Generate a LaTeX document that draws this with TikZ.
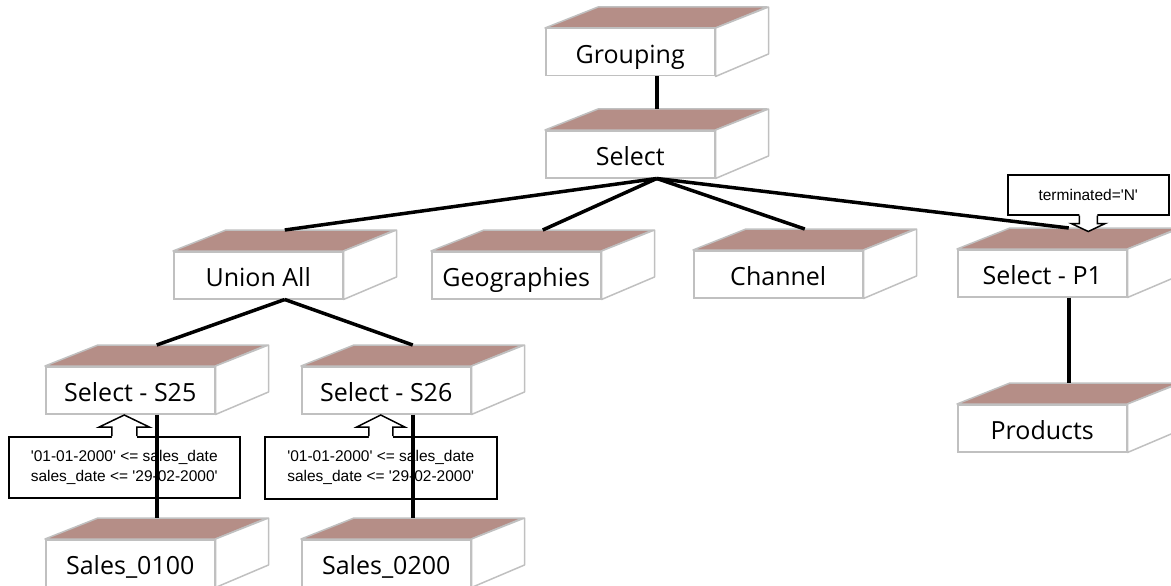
\documentclass[tikz,border=0pt]{standalone}
\usepackage{fontspec}
\setmainfont{Open Sans}
\newfontfamily\calloutfont{Liberation Sans}
\usetikzlibrary{calc}
\definecolor{boxtop}{RGB}{181,142,135}
\definecolor{boxedge}{RGB}{192,192,192}

\tikzset{
  opbox/.style={draw=boxedge, line width=1.5, fill=white, minimum width=169,
    minimum height=47, inner sep=0, anchor=north west,
    text height=26, text depth=3,
    font=\fontsize{25}{30}\selectfont},
  opface/.style={draw=boxedge, line width=1.5, line join=round},
  link/.style={line width=3.5, black},
  note/.style={draw=black, line width=1.5, fill=white, inner sep=0,
    anchor=north west, align=center,
    font=\calloutfont\fontsize{15.5}{20}\selectfont},
  noteline/.style={draw=black, line width=1.5, line join=miter},
}

% 3D operator box: front face as node, top and side faces drawn behind its corners
\newcommand\opnode[3]{%
  \node[opbox] (#1) at (#2) {#3};
  \path[opface, fill=boxtop] (#1.north west) -- ++(53,-21) -- ++(169,0)
    -- (#1.north east) -- cycle;
  \path[opface, fill=white] (#1.north east) -- ++(53,-21) -- ++(0,47)
    -- (#1.south east) -- cycle;
  \coordinate (#1-in) at ($(#1.north)+(26.5,-21)$);
  \coordinate (#1-out) at ($(#1.south)+(26.5,0)$);
}

% arrow of an upward callout: node, stem half width, stem length, head half width, head length
\newcommand\uptab[5]{%
  \fill[white] ($(#1.north)+(-#2,2)$) -- ($(#1.north)+(-#2,-#3)$)
    -- ($(#1.north)+(-#4,-#3)$) -- ($(#1.north)+(0,-#3-#5)$)
    -- ($(#1.north)+(#4,-#3)$) -- ($(#1.north)+(#2,-#3)$)
    -- ($(#1.north)+(#2,2)$) -- cycle;
  \path[noteline] ($(#1.north)+(-#2,0)$) -- ($(#1.north)+(-#2,-#3)$)
    -- ($(#1.north)+(-#4,-#3)$) -- ($(#1.north)+(0,-#3-#5)$)
    -- ($(#1.north)+(#4,-#3)$) -- ($(#1.north)+(#2,-#3)$)
    -- ($(#1.north)+(#2,0)$);
}
% arrow of a downward callout
\newcommand\downtab[5]{%
  \fill[white] ($(#1.south)+(-#2,-2)$) -- ($(#1.south)+(-#2,#3)$)
    -- ($(#1.south)+(-#4,#3)$) -- ($(#1.south)+(0,#3+#5)$)
    -- ($(#1.south)+(#4,#3)$) -- ($(#1.south)+(#2,#3)$)
    -- ($(#1.south)+(#2,-2)$) -- cycle;
  \path[noteline] ($(#1.south)+(-#2,0)$) -- ($(#1.south)+(-#2,#3)$)
    -- ($(#1.south)+(-#4,#3)$) -- ($(#1.south)+(0,#3+#5)$)
    -- ($(#1.south)+(#4,#3)$) -- ($(#1.south)+(#2,#3)$)
    -- ($(#1.south)+(#2,0)$);
}

\begin{document}
\begin{tikzpicture}[x=1pt, y=-1pt]
  \useasboundingbox (0,0) rectangle (1171,586);
  \clip (0,0) rectangle (1171,586);

  % operator boxes
  \opnode{grp}{545,28}{Grouping}
  \opnode{sel}{545,130}{Select}
  \opnode{union}{173,251}{Union All}
  \opnode{geo}{431,251}{Geographies}
  \opnode{chan}{693,250}{Channel}
  \opnode{selp}{957,249}{Select - P1}
  \opnode{sela}{45,366}{Select - S25}
  \opnode{selb}{301,366}{Select - S26}
  \opnode{prod}{957,404}{Products}
  \opnode{salesa}{45,539}{Sales\_0100}
  \opnode{salesb}{301,539}{Sales\_0200}

  % predicate callouts
  \node[note, minimum width=231, minimum height=61] (preda) at (8,436)
    {'01-01-2000' <= sales\_date\\sales\_date <= '29-02-2000'};
  \uptab{preda}{12.5}{9}{25}{12}
  \node[note, minimum width=232, minimum height=62] (predb) at (264,436)
    {'01-01-2000' <= sales\_date\\sales\_date <= '29-02-2000'};
  \uptab{predb}{12}{9}{24}{12}
  \node[note, minimum width=161, minimum height=40] (predp) at (1007,174)
    {terminated='N'};
  \downtab{predp}{9}{8}{17}{8}

  % plan edges
  \draw[link] (grp-out) -- (sel-in);
  \draw[link] (sel-out) -- (union-in);
  \draw[link] (sel-out) -- (geo-in);
  \draw[link] (sel-out) -- (chan-in);
  \draw[link] (sel-out) -- (selp-in);
  \draw[link] (union-out) -- (sela-in);
  \draw[link] (union-out) -- (selb-in);
  \draw[link] (sela-out) -- (salesa-in);
  \draw[link] (selb-out) -- (salesb-in);
  \draw[link] (selp-out) -- (prod-in);
\end{tikzpicture}
\end{document}
